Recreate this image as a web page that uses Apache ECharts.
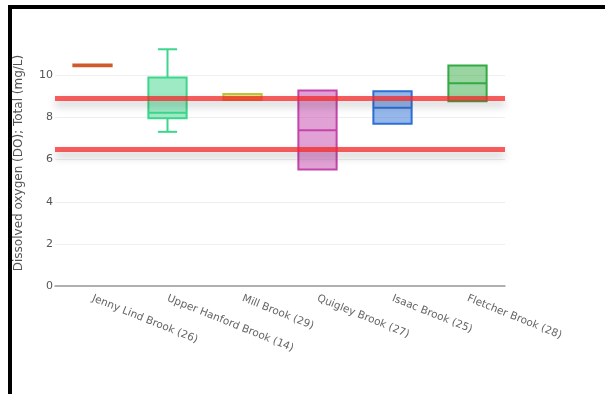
<!DOCTYPE html>
<html>
<head>
<meta charset="utf-8">
<script src="https://cdn.jsdelivr.net/npm/echarts@6/dist/echarts.min.js"></script>
<style>
  html, body { margin: 0; padding: 0; background: #fff; }
  #chart { width: 605px; height: 394px; }
</style>
</head>
<body>
<div id="chart"></div>
<script>
// Stations sampled, with sample counts
const categories = [
  'Jenny Lind Brook (26)',
  'Upper Hanford Brook (14)',
  'Mill Brook (29)',
  'Quigley Brook (27)',
  'Isaac Brook (25)',
  'Fletcher Brook (28)'
];
// Five-number summaries of dissolved oxygen (mg/L)
const lowValues    = [10.43, 7.32, 8.83, 5.53, 7.70, 8.77];
const q1Values     = [10.43, 7.96, 8.83, 5.53, 7.70, 8.77];
const medianValues = [10.47, 8.22, 8.95, 7.39, 8.46, 9.63];
const q3Values     = [10.52, 9.90, 9.12, 9.28, 9.25, 10.47];
const highValues   = [10.52, 11.24, 9.12, 9.28, 9.25, 10.47];
// Outline colour for each station's box
const boxColors = ['#cf5a2a', '#3dd68c', '#c4c432', '#c444aa', '#2d6fd6', '#33aa44'];
// Reference criteria lines (mg/L)
const criteria = [8.93, 6.48];
// y-axis tick values
const yTicks = [0, 2, 4, 6, 8, 10];

function hexToRgba(hex, a) {
  const n = parseInt(hex.slice(1), 16);
  return 'rgba(' + ((n >> 16) & 255) + ',' + ((n >> 8) & 255) + ',' + (n & 255) + ',' + a + ')';
}

const boxRows = categories.map((c, i) =>
  [i, lowValues[i], q1Values[i], medianValues[i], q3Values[i], highValues[i]]);

const chart = echarts.init(document.getElementById('chart'));

chart.setOption({
  animation: false,
  backgroundColor: '#fff',
  textStyle: { fontFamily: 'DejaVu Sans' },
  grid: { left: 55, right: 100, top: 40, bottom: 108 },
  graphic: [{
    type: 'polyline',
    shape: { points: [[10, 394], [10, 7], [605, 7]] },
    style: { stroke: '#000', lineWidth: 4, fill: null },
    z: 100
  }],
  xAxis: {
    type: 'category',
    data: categories,
    boundaryGap: true,
    axisLine: { lineStyle: { color: '#999', width: 1.5 } },
    axisTick: { alignWithLabel: true, length: 5, lineStyle: { color: '#888' } },
    axisLabel: {
      rotate: -22,
      interval: 0,
      margin: 12,
      color: '#666',
      fontSize: 10.5,
      fontFamily: 'DejaVu Sans'
    },
    splitLine: { show: false }
  },
  yAxis: {
    type: 'value',
    min: 0,
    max: 11.68,
    interval: 2,
    name: 'Dissolved oxygen (DO); Total (mg/L)',
    nameLocation: 'middle',
    nameGap: 30,
    nameTextStyle: { color: '#555', fontSize: 12, fontFamily: 'DejaVu Sans' },
    axisLine: { show: false },
    axisTick: { show: false },
    axisLabel: {
      color: '#555',
      fontSize: 11,
      margin: 2,
      showMaxLabel: false,
      formatter: v => (yTicks.indexOf(v) >= 0 ? String(v) : '')
    },
    splitLine: {
      lineStyle: {
        color: ['#eee', '#eee', '#eee', '#eee', '#eee', '#eee', 'rgba(0,0,0,0)'],
        width: 1
      }
    }
  },
  series: [
    {
      type: 'custom',
      data: boxRows,
      encode: { x: 0, y: [1, 2, 3, 4, 5] },
      z: 2,
      renderItem: function (params, api) {
        const i = api.value(0);
        const cx = api.coord([i, 0])[0];
        const band = api.size([1, 0])[0];
        const half = band * 0.255;
        const capHalf = band * 0.128;
        const yLow = api.coord([i, api.value(1)])[1];
        const yQ1 = api.coord([i, api.value(2)])[1];
        const yMed = api.coord([i, api.value(3)])[1];
        const yQ3 = api.coord([i, api.value(4)])[1];
        const yHigh = api.coord([i, api.value(5)])[1];
        const color = boxColors[i];
        const stroke = { stroke: color, lineWidth: 2, fill: null };
        const children = [
          {
            type: 'rect',
            shape: { x: cx - half, y: yQ3, width: half * 2, height: yQ1 - yQ3 },
            style: { fill: hexToRgba(color, 0.5), stroke: color, lineWidth: 2 }
          },
          {
            type: 'line',
            shape: { x1: cx - half, y1: yMed, x2: cx + half, y2: yMed },
            style: stroke
          }
        ];
        if (yHigh < yQ3 - 0.5) {
          children.push(
            { type: 'line', shape: { x1: cx, y1: yQ3, x2: cx, y2: yHigh }, style: stroke },
            { type: 'line', shape: { x1: cx - capHalf, y1: yHigh, x2: cx + capHalf, y2: yHigh }, style: stroke }
          );
        }
        if (yLow > yQ1 + 0.5) {
          children.push(
            { type: 'line', shape: { x1: cx, y1: yQ1, x2: cx, y2: yLow }, style: stroke },
            { type: 'line', shape: { x1: cx - capHalf, y1: yLow, x2: cx + capHalf, y2: yLow }, style: stroke }
          );
        }
        return { type: 'group', children: children };
      }
    },
    {
      type: 'line',
      data: [],
      z: 5,
      silent: true,
      markLine: {
        silent: true,
        symbol: ['none', 'none'],
        label: { show: false },
        lineStyle: {
          type: 'solid',
          color: 'rgba(245,40,40,0.75)',
          width: 5,
          shadowColor: 'rgba(0,0,0,0.3)',
          shadowBlur: 8,
          shadowOffsetY: 5
        },
        data: criteria.map(v => ({ yAxis: v }))
      }
    }
  ]
});
</script>
</body>
</html>
